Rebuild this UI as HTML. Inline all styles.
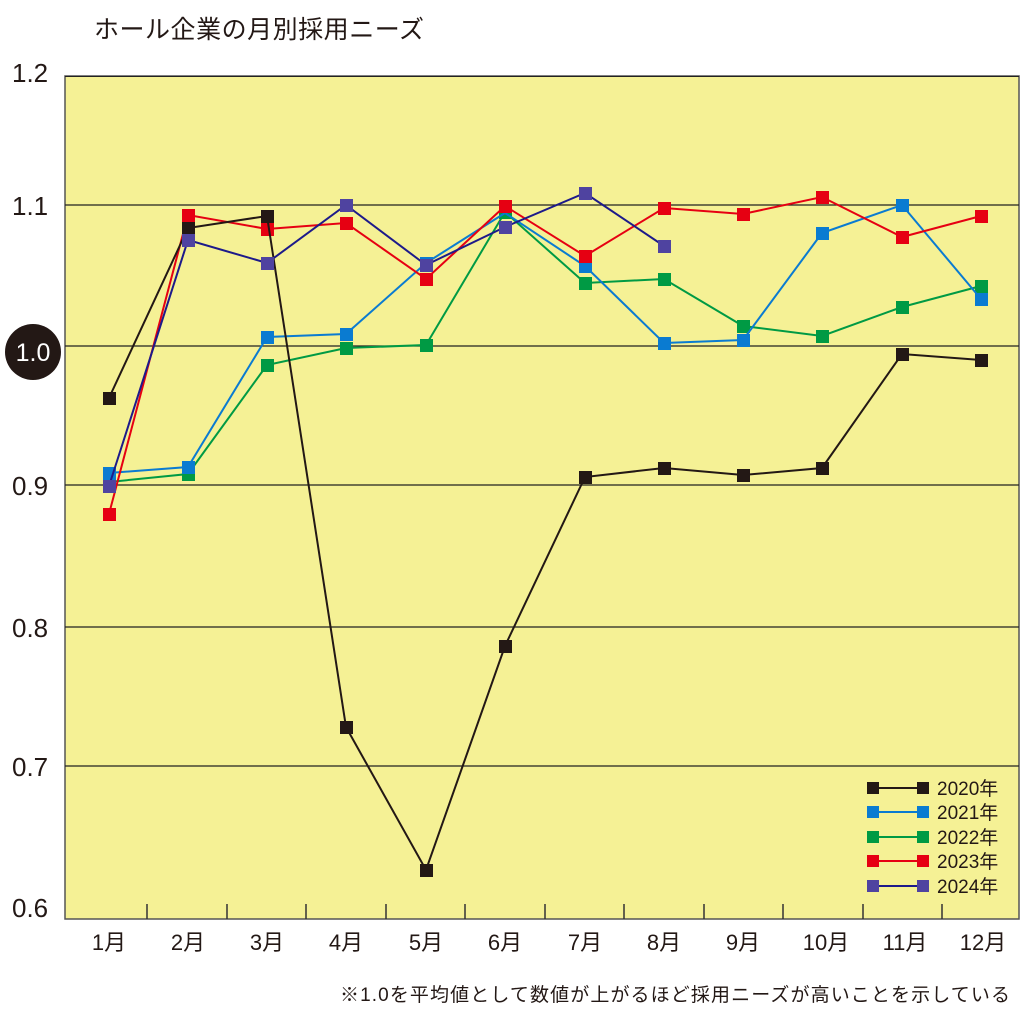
<!DOCTYPE html>
<html><head><meta charset="utf-8"><style>
html,body{margin:0;padding:0;background:#fff;}
svg{display:block;}
text{font-family:"Liberation Sans","Noto Sans CJK JP",sans-serif;fill:#231815;}
</style></head><body>
<svg width="1024" height="1014" viewBox="0 0 1024 1014" xmlns="http://www.w3.org/2000/svg">
<text x="94" y="38" font-size="25" textLength="330">ホール企業の月別採用ニーズ</text>
<rect x="65" y="76" width="954" height="843" fill="#f5f195" stroke="#555" stroke-width="1.5"/>
<rect x="65" y="76" width="954" height="1" fill="#222"/>
<g stroke="#222" stroke-width="1.3">
<line x1="65" y1="205" x2="1019" y2="205"/>
<line x1="65" y1="346" x2="1019" y2="346"/>
<line x1="65" y1="485" x2="1019" y2="485"/>
<line x1="65" y1="627" x2="1019" y2="627"/>
<line x1="65" y1="766" x2="1019" y2="766"/>
</g>
<g stroke="#333" stroke-width="1.5">
<line x1="147" y1="904" x2="147" y2="919"/><line x1="227" y1="904" x2="227" y2="919"/>
<line x1="306" y1="904" x2="306" y2="919"/><line x1="386" y1="904" x2="386" y2="919"/>
<line x1="465" y1="904" x2="465" y2="919"/><line x1="545" y1="904" x2="545" y2="919"/>
<line x1="624" y1="904" x2="624" y2="919"/><line x1="704" y1="904" x2="704" y2="919"/>
<line x1="783" y1="904" x2="783" y2="919"/><line x1="863" y1="904" x2="863" y2="919"/>
<line x1="942" y1="904" x2="942" y2="919"/>
</g>
<g font-size="26">
<text x="12" y="82">1.2</text>
<text x="12" y="215">1.1</text>
<text x="12" y="495">0.9</text>
<text x="12" y="637">0.8</text>
<text x="12" y="776">0.7</text>
<text x="12" y="917">0.6</text>
</g>
<circle cx="33" cy="352" r="28" fill="#231815"/>
<text x="33" y="361" font-size="25" text-anchor="middle" style="fill:#fff">1.0</text>
<g font-size="22" text-anchor="middle">
<text x="109" y="950">1月</text><text x="188" y="950">2月</text><text x="267" y="950">3月</text>
<text x="346" y="950">4月</text><text x="426" y="950">5月</text><text x="505" y="950">6月</text>
<text x="585" y="950">7月</text><text x="664" y="950">8月</text><text x="743" y="950">9月</text>
<text x="826" y="950">10月</text><text x="905" y="950">11月</text><text x="983" y="950">12月</text>
</g>
<text x="340" y="1001" font-size="19" textLength="670">※1.0を平均値として数値が上がるほど採用ニーズが高いことを示している</text>

<polyline fill="none" stroke="#009a44" stroke-width="2" points="109,482 188,474 267,365 346,348 426,345 505,212 585,283 664,279 743,326 822,336 902,307 981,286"/>
<g fill="#009a44"><rect x="103" y="476" width="13" height="13"/><rect x="182" y="468" width="13" height="13"/><rect x="261" y="359" width="13" height="13"/><rect x="340" y="342" width="13" height="13"/><rect x="420" y="339" width="13" height="13"/><rect x="499" y="206" width="13" height="13"/><rect x="579" y="277" width="13" height="13"/><rect x="658" y="273" width="13" height="13"/><rect x="737" y="320" width="13" height="13"/><rect x="816" y="330" width="13" height="13"/><rect x="896" y="301" width="13" height="13"/><rect x="975" y="280" width="13" height="13"/></g>
<polyline fill="none" stroke="#0a7bd1" stroke-width="2" points="109,473 188,467 267,337 346,334 426,263 505,213 585,266 664,343 743,340 822,233 902,205 981,299"/>
<g fill="#0a7bd1"><rect x="103" y="467" width="13" height="13"/><rect x="182" y="461" width="13" height="13"/><rect x="261" y="331" width="13" height="13"/><rect x="340" y="328" width="13" height="13"/><rect x="420" y="257" width="13" height="13"/><rect x="579" y="260" width="13" height="13"/><rect x="658" y="337" width="13" height="13"/><rect x="737" y="334" width="13" height="13"/><rect x="816" y="227" width="13" height="13"/><rect x="896" y="199" width="13" height="13"/><rect x="975" y="293" width="13" height="13"/></g>
<polyline fill="none" stroke="#e60012" stroke-width="2" points="109,514 188,215 267,229 346,223 426,279 505,206 585,256 664,208 743,214 822,197 902,237 981,216"/>
<g fill="#e60012"><rect x="103" y="508" width="13" height="13"/><rect x="182" y="209" width="13" height="13"/><rect x="261" y="223" width="13" height="13"/><rect x="340" y="217" width="13" height="13"/><rect x="420" y="273" width="13" height="13"/><rect x="499" y="200" width="13" height="13"/><rect x="579" y="250" width="13" height="13"/><rect x="658" y="202" width="13" height="13"/><rect x="737" y="208" width="13" height="13"/><rect x="816" y="191" width="13" height="13"/><rect x="896" y="231" width="13" height="13"/><rect x="975" y="210" width="13" height="13"/></g>
<polyline fill="none" stroke="#231815" stroke-width="2" points="109,398 188,228 267,216 346,727 426,870 505,646 585,477 664,468 743,475 822,468 902,354 981,360"/>
<g fill="#231815"><rect x="103" y="392" width="13" height="13"/><rect x="182" y="222" width="13" height="13"/><rect x="261" y="210" width="13" height="13"/><rect x="340" y="721" width="13" height="13"/><rect x="420" y="864" width="13" height="13"/><rect x="499" y="640" width="13" height="13"/><rect x="579" y="471" width="13" height="13"/><rect x="658" y="462" width="13" height="13"/><rect x="737" y="469" width="13" height="13"/><rect x="816" y="462" width="13" height="13"/><rect x="896" y="348" width="13" height="13"/><rect x="975" y="354" width="13" height="13"/></g>
<polyline fill="none" stroke="#1d1a8a" stroke-width="2" points="109,486 188,240 267,263 346,205 426,265 505,227 585,193 664,246"/>
<g fill="#4f43a0"><rect x="103" y="480" width="13" height="13"/><rect x="182" y="234" width="13" height="13"/><rect x="261" y="257" width="13" height="13"/><rect x="340" y="199" width="13" height="13"/><rect x="420" y="259" width="13" height="13"/><rect x="499" y="221" width="13" height="13"/><rect x="579" y="187" width="13" height="13"/><rect x="658" y="240" width="13" height="13"/></g>

<g stroke-width="2">
<line x1="872" y1="788" x2="922" y2="788" stroke="#231815"/>
<line x1="872" y1="812" x2="922" y2="812" stroke="#0a7bd1"/>
<line x1="872" y1="837" x2="922" y2="837" stroke="#009a44"/>
<line x1="872" y1="861" x2="922" y2="861" stroke="#e60012"/>
<line x1="872" y1="886" x2="922" y2="886" stroke="#1d1a8a"/>
</g>
<g>
<rect x="867" y="782" width="12" height="12" fill="#231815"/><rect x="917" y="782" width="12" height="12" fill="#231815"/>
<rect x="867" y="806" width="12" height="12" fill="#0a7bd1"/><rect x="917" y="806" width="12" height="12" fill="#0a7bd1"/>
<rect x="867" y="831" width="12" height="12" fill="#009a44"/><rect x="917" y="831" width="12" height="12" fill="#009a44"/>
<rect x="867" y="855" width="12" height="12" fill="#e60012"/><rect x="917" y="855" width="12" height="12" fill="#e60012"/>
<rect x="867" y="880" width="12" height="12" fill="#4f43a0"/><rect x="917" y="880" width="12" height="12" fill="#4f43a0"/>
</g>
<g font-size="19">
<text x="937" y="795">2020年</text>
<text x="937" y="819">2021年</text>
<text x="937" y="844">2022年</text>
<text x="937" y="868">2023年</text>
<text x="937" y="893">2024年</text>
</g>
</svg>
</body></html>
